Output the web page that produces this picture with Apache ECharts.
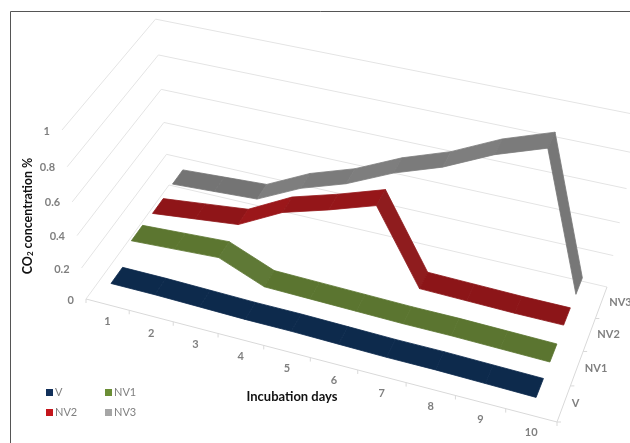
<!DOCTYPE html>
<html>
<head>
<meta charset="utf-8">
<script src="https://cdn.jsdelivr.net/npm/echarts@6/dist/echarts.min.js"></script>
<style>
  html, body { margin: 0; padding: 0; background: #fff; }
  #chart { width: 630px; height: 443px; }
</style>
</head>
<body>
<div id="chart"></div>
<script>
const days = ['1', '2', '3', '4', '5', '6', '7', '8', '9', '10'];
const groups = ['V', 'NV1', 'NV2', 'NV3'];
const valueTicks = [0, 0.2, 0.4, 0.6, 0.8, 1];

const V = [0.09, 0.09, 0.085, 0.08, 0.08, 0.075, 0.07, 0.07, 0.065, 0.06];
const NV1 = [0.17, 0.185, 0.2, 0.085, 0.08, 0.075, 0.07, 0.07, 0.065, 0.06];
const NV2 = [0.16, 0.19, 0.22, 0.36, 0.44, 0.53, 0.09, 0.085, 0.08, 0.08];
const NV3 = [0.17, 0.185, 0.2, 0.33, 0.42, 0.545, 0.64, 0.77, 0.865, 0.07];

const legendColors = ['#12305a', '#6b8e35', '#c4161c', '#a6a6a6'];
const ribbonColors = ['#0d2a4c', '#5b7530', '#8c1518', '#737373'];

// camera, fitted to the corners of the plot box
const floorFrontLeft = [86, 299];
const floorFrontRight = [557, 422];
const floorBackRight = [607, 287];
const floorBackLeft = [169, 185];
const topFrontLeft = [62, 130];
const verticalPerspective = 0.9;

const A = floorFrontLeft, B = floorFrontRight, C = floorBackRight, D = floorBackLeft, E = topFrontLeft;
const dx1 = B[0] - C[0], dx2 = D[0] - C[0], sx = A[0] - B[0] + C[0] - D[0];
const dy1 = B[1] - C[1], dy2 = D[1] - C[1], sy = A[1] - B[1] + C[1] - D[1];
const det = dx1 * dy2 - dx2 * dy1;
const g = (sx * dy2 - dx2 * sy) / det;
const h = (dx1 * sy - sx * dy1) / det;
const a1 = B[0] - A[0] + g * B[0], b1 = D[0] - A[0] + h * D[0];
const a2 = B[1] - A[1] + g * B[1], b2 = D[1] - A[1] + h * D[1];
const c1 = verticalPerspective * E[0] - A[0];
const c2 = verticalPerspective * E[1] - A[1];
const c3 = verticalPerspective - 1;

// u along days, s along groups, v along value, all 0..1
function project(u, s, v) {
  const w = g * u + h * s + 1 + c3 * v;
  return [
    (a1 * u + b1 * s + A[0] + c1 * v) / w,
    (a2 * u + b2 * s + A[1] + c2 * v) / w
  ];
}

const W = 630, H = 443;
const chart = echarts.init(document.getElementById('chart'));

// hidden axes give the scales, the full canvas is the grid
function toUnit(api, dayIndex, value) {
  const p = api.coord([dayIndex, value]);
  return [p[0] / W, 1 - p[1] / H];
}

const ribbonHalf = 0.066;

function ribbonSeries(name, values, k) {
  const s = (k + 0.5) / groups.length;
  return {
    name: name,
    type: 'custom',
    coordinateSystem: 'cartesian2d',
    clip: false,
    silent: true,
    z: 10 + (groups.length - k),
    itemStyle: { color: legendColors[k] },
    data: values.map((v, i) => [i, v]),
    renderItem: (params, api) => {
      const i = api.value(0);
      if (i >= values.length - 1) return null;
      const p0 = toUnit(api, i, api.value(1));
      const p1 = toUnit(api, i + 1, values[i + 1]);
      // rising faces catch less light than falling ones
      const shade = Math.max(-0.14, Math.min(0.03, -(values[i + 1] - values[i]) * 0.8));
      const fill = echarts.color.lift(ribbonColors[k], shade);
      return {
        type: 'polygon',
        shape: {
          points: [
            project(p0[0], s - ribbonHalf, p0[1]),
            project(p0[0], s + ribbonHalf, p0[1]),
            project(p1[0], s + ribbonHalf, p1[1]),
            project(p1[0], s - ribbonHalf, p1[1])
          ]
        },
        style: { fill: fill, stroke: fill, lineWidth: 0.8 }
      };
    }
  };
}

function line(p, q, stroke) {
  return {
    type: 'line',
    shape: { x1: p[0], y1: p[1], x2: q[0], y2: q[1] },
    style: { stroke: stroke, lineWidth: 1 }
  };
}

function label(text, p, align, color) {
  return {
    type: 'text',
    style: {
      x: p[0], y: p[1], text: text,
      fill: color || '#7f7f7f',
      font: 'bold 11px Lato',
      align: align,
      verticalAlign: 'middle'
    }
  };
}

function renderBox() {
  const els = [];
  valueTicks.forEach((t) => {
    els.push({
      type: 'polyline',
      shape: { points: [project(0, 0, t), project(0, 1, t), project(1, 1, t)] },
      style: { stroke: '#e4e4e4', lineWidth: 1, fill: null }
    });
    const p = project(0, 0, t);
    els.push(label(String(t), [p[0] - 12, p[1] + 1], 'right'));
  });
  els.push(line(project(0, 0, 0), project(1, 0, 0), '#d9d9d9'));
  els.push(line(project(1, 0, 0), project(1, 1, 0), '#d9d9d9'));
  days.forEach((d, i) => {
    const p = project(i / days.length, 0, 0);
    els.push(line(p, [p[0], p[1] + 4], '#d9d9d9'));
    const c = project((i + 0.5) / days.length, 0, 0);
    els.push(label(d, [c[0], c[1] + 17], 'center'));
  });
  els.push(line(project(1, 0, 0), [B[0], B[1] + 4], '#d9d9d9'));
  groups.forEach((name, k) => {
    const p = project(1, k / groups.length, 0);
    els.push(line(p, [p[0] + 4, p[1]], '#d9d9d9'));
    const c = project(1, (k + 0.5) / groups.length, 0);
    els.push(label(name, [c[0] + 8, c[1]], 'left'));
  });
  els.push(label('Incubation days', [292, 397], 'center', '#111'));
  els[els.length - 1].style.font = 'bold 13px Lato';
  els.push({
    type: 'text',
    x: 28, y: 216, rotation: Math.PI / 2,
    style: {
      x: 0, y: 0,
      text: 'CO{sub|2} concentration %',
      fill: '#111',
      font: 'bold 12.5px Lato',
      align: 'center',
      verticalAlign: 'middle',
      rich: { sub: { font: 'bold 8px Lato', fill: '#111', padding: [5, 0, 0, 0] } }
    }
  });
  // frame
  els.push(line([10.5, 11.5], [630, 11.5], '#555'));
  els.push(line([10.5, 11.5], [10.5, 443], '#555'));
  return { type: 'group', children: els };
}

const legendBase = {
  orient: 'vertical',
  icon: 'rect',
  itemWidth: 7,
  itemHeight: 7,
  itemGap: 9,
  padding: 0,
  selectedMode: false,
  textStyle: { color: '#7f7f7f', fontSize: 11, fontFamily: 'Lato', padding: [0, 0, 0, -3] }
};

chart.setOption({
  animation: false,
  grid: { left: 0, right: 0, top: 0, bottom: 0 },
  xAxis: { type: 'category', data: days, show: false, boundaryGap: true },
  yAxis: { type: 'value', min: 0, max: 1, show: false },
  legend: [
    Object.assign({}, legendBase, { left: 46, top: 387, data: ['V', 'NV2'] }),
    Object.assign({}, legendBase, { left: 105, top: 387, data: ['NV1', 'NV3'] })
  ],
  series: [
    {
      name: 'box',
      type: 'custom',
      coordinateSystem: 'cartesian2d',
      clip: false,
      silent: true,
      z: 1,
      data: [[0, 0]],
      renderItem: renderBox
    },
    ribbonSeries('NV3', NV3, 3),
    ribbonSeries('NV2', NV2, 2),
    ribbonSeries('NV1', NV1, 1),
    ribbonSeries('V', V, 0)
  ]
});
</script>
</body>
</html>
